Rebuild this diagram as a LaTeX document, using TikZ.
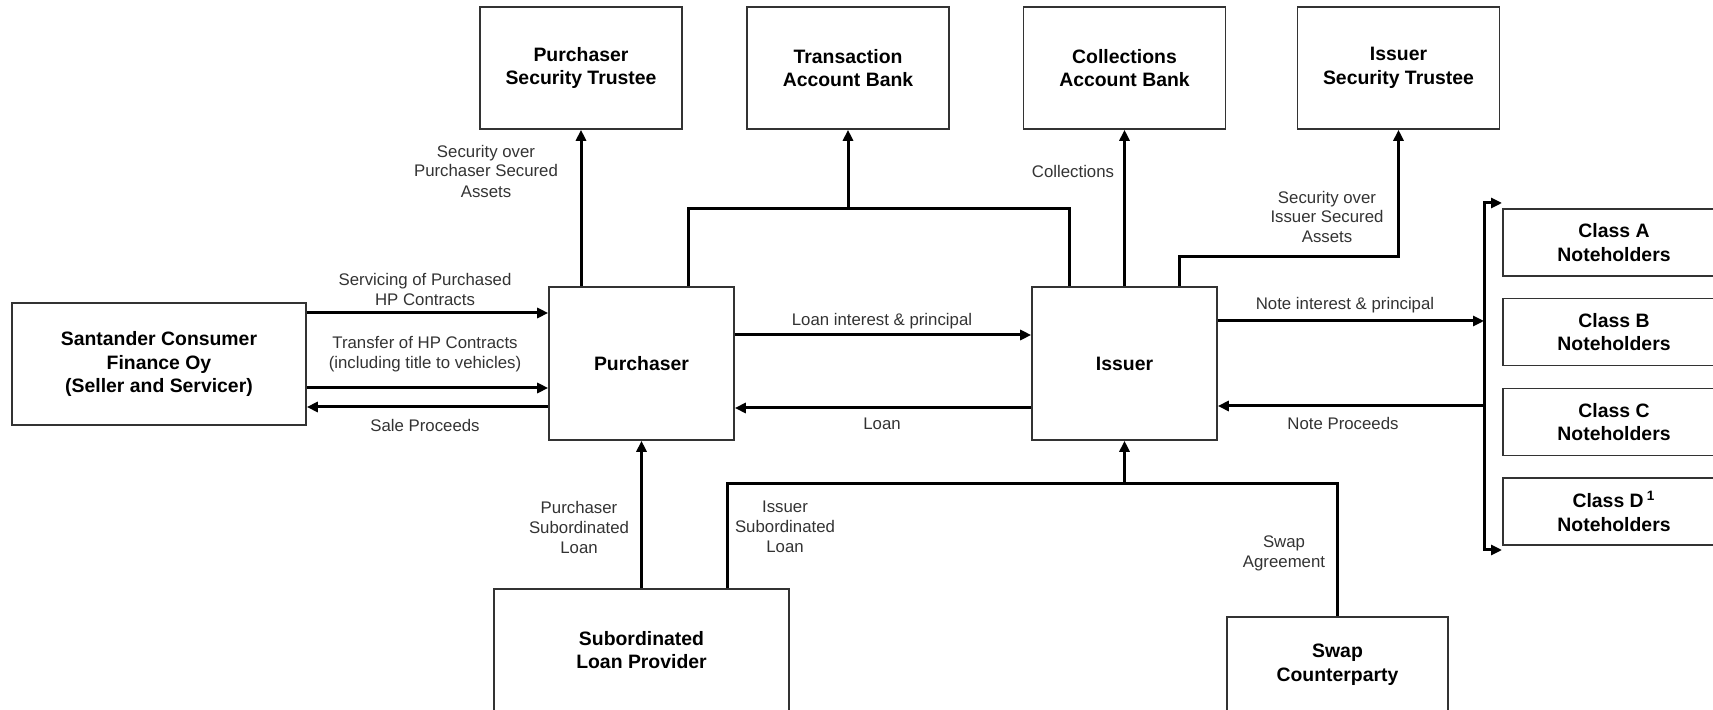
\documentclass[tikz,border=0pt]{standalone}
\usepackage{fontspec}
\setmainfont{Liberation Sans}
\usetikzlibrary{arrows.meta}

\tikzset{
  party/.style={draw=black!80, line width=0.8pt, align=center, inner sep=0pt,
    font=\fontsize{9.7}{11.8}\selectfont\bfseries},
  link/.style={line width=1.5pt},
  flow/.style={link, -{Triangle[length=5.5pt,width=5pt]}},
  lbl/.style={align=center, inner sep=0pt, text=black!80,
    font=\fontsize{8.4}{10}\selectfont}
}

\begin{document}
\begin{tikzpicture}[x=0.5pt,y=-0.5pt]
  \useasboundingbox (0,0) rectangle (1713,710);
  \clip (0,0) rectangle (1713,710);

  % parties
  \node[party, minimum width=101pt, minimum height=61pt] (pst) at (581,68) {Purchaser\\Security Trustee};
  \node[party, minimum width=101pt, minimum height=61pt] (tab) at (848,68) {Transaction\\Account Bank};
  \node[party, minimum width=101pt, minimum height=61pt] (cab) at (1124.5,68) {Collections\\Account Bank};
  \node[party, minimum width=101pt, minimum height=61pt] (ist) at (1398.5,68) {Issuer\\Security Trustee};
  \node[party, minimum width=147pt, minimum height=61pt] (sant) at (159,364) {Santander Consumer\\Finance Oy\\(Seller and Servicer)};
  \node[party, minimum width=92.5pt, minimum height=76.5pt] (purch) at (641.5,363.5) {Purchaser};
  \node[party, minimum width=92.5pt, minimum height=76.5pt] (iss) at (1124.5,363.5) {Issuer};
  \node[party, minimum width=147.5pt, minimum height=61pt] (slp) at (641.5,650) {Subordinated\\Loan Provider};
  \node[party, minimum width=110.5pt, minimum height=48pt] (swap) at (1337.5,665) {Swap\\Counterparty};
  \foreach \c/\t/\y in {A/A/242.5, B/B/332, C/C/422, D/{D\,\textsuperscript{1}}/511.5}
    \node[party, minimum width=111pt, minimum height=33.5pt] (cls\c) at (1614,\y) {Class \t\\Noteholders};

  % up to the top row
  \draw[flow] (pst.south |- purch.north) -- (pst.south);
  \coordinate (tabus) at (848,209);
  \draw[link] ([xshift=23.25pt]purch.north) |- (tabus) -| ([xshift=-27.75pt]iss.north);
  \draw[flow] (tabus) -- (tab.south);
  \draw[flow] (iss.north) -- (cab.south);
  \draw[flow] ([xshift=27.25pt]iss.north) |- ([yshift=-63.5pt]ist.south) -- (ist.south);

  % seller and purchaser
  \draw[flow] (sant.east |- 0,313) -- (purch.west |- 0,313);
  \draw[flow] (sant.east |- 0,388) -- (purch.west |- 0,388);
  \draw[flow] (purch.west |- 0,407) -- (sant.east |- 0,407);

  % purchaser and issuer
  \draw[flow] (purch.east |- 0,335) -- (iss.west |- 0,335);
  \draw[flow] (iss.west |- 0,408) -- (purch.east |- 0,408);

  % noteholders
  \coordinate (nbtop) at (1484,203);
  \coordinate (nbbot) at (1484,550);
  \draw[link, {Triangle[length=5.5pt,width=5pt]}-{Triangle[length=5.5pt,width=5pt]}]
    ([xshift=9pt]nbtop) -- (nbtop) -- (nbbot) -- ([xshift=9pt]nbbot);
  \draw[flow] (iss.east |- 0,321) -- (nbtop |- 0,321);
  \draw[flow] (nbtop |- 0,406) -- (iss.east |- 0,406);

  % subordinated loans and swap
  \draw[flow] (slp.north) -- (purch.south);
  \coordinate (isbus) at (1124.5,484);
  \draw[link] ([xshift=42.75pt]slp.north) |- (isbus) -| (swap.north);
  \draw[flow] (isbus) -- (iss.south);

  % labels
  \node[lbl] (lsecp) at (486,171) {Security over\\Purchaser Secured\\Assets};
  \node[lbl] (lcoll) at (1073,172) {Collections};
  \node[lbl] (lseci) at (1327,217) {Security over\\Issuer Secured\\Assets};
  \node[lbl] (lserv) at (425,289) {Servicing of Purchased\\HP Contracts};
  \node[lbl] (ltrans) at (425,354) {Transfer of HP Contracts\\(including title to vehicles)};
  \node[lbl] (lsale) at (425,425) {Sale Proceeds};
  \node[lbl] (lint) at (882,321) {Loan interest \& principal};
  \node[lbl] (lloan) at (882,424) {Loan};
  \node[lbl] (lnint) at (1345,305) {Note interest \& principal};
  \node[lbl] (lnproc) at (1343,423) {Note Proceeds};
  \node[lbl] (lpsub) at (579,527) {Purchaser\\Subordinated\\Loan};
  \node[lbl] (lisub) at (785,527) {Issuer\\Subordinated\\Loan};
  \node[lbl] (lswap) at (1284,553) {Swap\\Agreement};
\end{tikzpicture}
\end{document}
